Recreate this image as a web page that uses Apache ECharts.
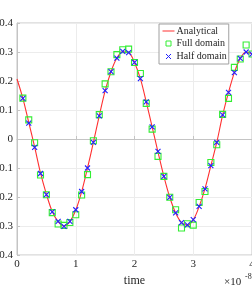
<!DOCTYPE html>
<html>
<head>
<meta charset="utf-8">
<script src="https://cdn.jsdelivr.net/npm/echarts@6/dist/echarts.min.js"></script>
<style>html,body{margin:0;padding:0;background:#fff;}#c{width:252px;height:288px;}</style>
</head>
<body>
<div id="c"></div>
<script>
// time in units of 1e-8
var lineTimes = [0,0.1,0.2,0.3,0.4,0.5,0.6,0.7,0.8,0.9,1.0,1.1,1.2,1.3,1.4,1.5,1.6,1.7,1.8,1.9,2.0,2.1,2.2,2.3,2.4,2.5,2.6,2.7,2.8,2.9,3.0,3.1,3.2,3.3,3.4,3.5,3.6,3.7,3.8,3.9,4.0];
var analytical = [0.207,0.140,0.057,-0.027,-0.117,-0.190,-0.250,-0.285,-0.300,-0.285,-0.245,-0.182,-0.100,-0.012,0.080,0.166,0.232,0.279,0.301,0.298,0.264,0.208,0.128,0.042,-0.045,-0.129,-0.201,-0.255,-0.288,-0.297,-0.279,-0.233,-0.171,-0.092,-0.012,0.082,0.161,0.229,0.278,0.300,0.293];
var sampleTimes = [0.1,0.2,0.3,0.4,0.5,0.6,0.7,0.8,0.9,1.0,1.1,1.2,1.3,1.4,1.5,1.6,1.7,1.8,1.9,2.0,2.1,2.2,2.3,2.4,2.5,2.6,2.7,2.8,2.9,3.0,3.1,3.2,3.3,3.4,3.5,3.6,3.7,3.8,3.9,4.0];
var fullDomain = [0.141,0.066,-0.013,-0.124,-0.192,-0.254,-0.293,-0.298,-0.288,-0.261,-0.193,-0.123,-0.006,0.084,0.190,0.232,0.291,0.308,0.310,0.264,0.226,0.123,0.034,-0.060,-0.129,-0.201,-0.244,-0.307,-0.292,-0.297,-0.219,-0.181,-0.081,-0.020,0.085,0.140,0.247,0.276,0.324,0.293];
var halfDomain = [0.140,0.055,-0.029,-0.119,-0.192,-0.251,-0.284,-0.301,-0.284,-0.244,-0.181,-0.100,-0.012,0.080,0.167,0.232,0.279,0.302,0.298,0.264,0.208,0.128,0.042,-0.043,-0.129,-0.201,-0.255,-0.288,-0.296,-0.278,-0.232,-0.172,-0.092,-0.012,0.083,0.161,0.229,0.278,0.300,0.293];
var xTicks = [0,1,2,3,4];
var yTicks = [-0.4,-0.3,-0.2,-0.1,0,0.1,0.2,0.3,0.4];
var seriesNames = ['Analytical','Full domain','Half domain'];

function pairs(xs, ys){ return xs.map(function(x,i){ return [x, ys[i]]; }); }

var FONT = '"Liberation Serif", "DejaVu Serif", serif';
var RED = '#ff3030', GREEN = '#33ee33', BLUE = '#2222ff';
var chart = echarts.init(document.getElementById('c'), null, {renderer:'canvas'});
chart.setOption({
  animation: false,
  backgroundColor: '#fff',
  textStyle: {fontFamily: FONT},
  grid: {left: 17, right: 0, top: 23, bottom: 33, outerBoundsMode: 'none', containLabel: false,
         show: true, borderColor: '#c4c4c4', borderWidth: 1, backgroundColor: 'transparent'},
  xAxis: {
    type: 'value', min: xTicks[0], max: xTicks[xTicks.length-1], interval: 1,
    name: 'time', nameLocation: 'middle', nameGap: 14,
    nameTextStyle: {fontFamily: FONT, fontSize: 12, color: '#262626'},
    axisLine: {show: true, lineStyle: {color: '#c4c4c4', width: 1}},
    axisTick: {show: true, inside: true, length: 3, lineStyle: {color: '#c4c4c4'}},
    axisLabel: {fontFamily: FONT, fontSize: 11, color: '#262626', margin: 4, hideOverlap: false, showMaxLabel: true, showMinLabel: true},
    splitLine: {show: true, lineStyle: {color: '#ececec', width: 1}}
  },
  yAxis: {
    type: 'value', min: yTicks[0], max: yTicks[yTicks.length-1], interval: 0.1,
    axisLine: {show: true, lineStyle: {color: '#c4c4c4', width: 1}},
    axisTick: {show: true, inside: true, length: 3, lineStyle: {color: '#c4c4c4'}},
    axisLabel: {fontFamily: FONT, fontSize: 11, color: '#262626', margin: 4, hideOverlap: false,
      formatter: function(v){ return (Math.round(v*10)/10).toString(); }},
    splitLine: {show: true, lineStyle: {color: '#ececec', width: 1}}
  },
  legend: {
    data: [
      {name: seriesNames[0], icon: 'path://M0,0M12,10M0,4.5L12,4.5L12,5.5L0,5.5Z',
       itemStyle: {color: RED, borderWidth: 0}},
      {name: seriesNames[1], icon: 'path://M0,0M12,10M3.5,2.5L8.5,2.5L8.5,7.5L3.5,7.5Z',
       itemStyle: {color: 'rgba(0,0,0,0)', borderColor: GREEN, borderWidth: 1}},
      {name: seriesNames[2], icon: 'path://M0,0M12,10M3.5,2.5L8.5,7.5M8.5,2.5L3.5,7.5',
       itemStyle: {color: 'rgba(0,0,0,0)', borderColor: BLUE, borderWidth: 1}}
    ],
    orient: 'vertical', left: 159, top: 24,
    backgroundColor: '#fff', borderColor: '#a0a0a0', borderWidth: 1, borderRadius: 0,
    padding: [2, 2, 2, 3], itemGap: 2, itemWidth: 12, itemHeight: 10,
    textStyle: {fontFamily: FONT, fontSize: 10, color: '#262626', padding: [0,0,0,-3]}
  },
  series: [
    {
      name: seriesNames[0], type: 'line', data: pairs(lineTimes, analytical),
      smooth: 0.35, showSymbol: false, symbol: 'none',
      lineStyle: {color: RED, width: 1.1}, itemStyle: {color: RED}, z: 2
    },
    {
      name: seriesNames[1], type: 'scatter', data: pairs(sampleTimes, fullDomain),
      symbol: 'rect', symbolSize: 6,
      itemStyle: {color: 'rgba(0,0,0,0)', borderColor: GREEN, borderWidth: 1.1, opacity: 1}, z: 3
    },
    {
      name: seriesNames[2], type: 'scatter', data: pairs(sampleTimes, halfDomain),
      symbol: 'path://M0,0L10,10M10,0L0,10', symbolSize: 5,
      itemStyle: {color: 'rgba(0,0,0,0)', borderColor: BLUE, borderWidth: 1.1, opacity: 1}, z: 4
    }
  ],
  graphic: [
    {type: 'text', left: 224, top: 277, style: {text: '\u00d710', font: '11px ' + FONT, fill: '#262626'}},
    {type: 'text', left: 245, top: 273, style: {text: '-8', font: '8px ' + FONT, fill: '#262626'}}
  ]
});
</script>
</body>
</html>
